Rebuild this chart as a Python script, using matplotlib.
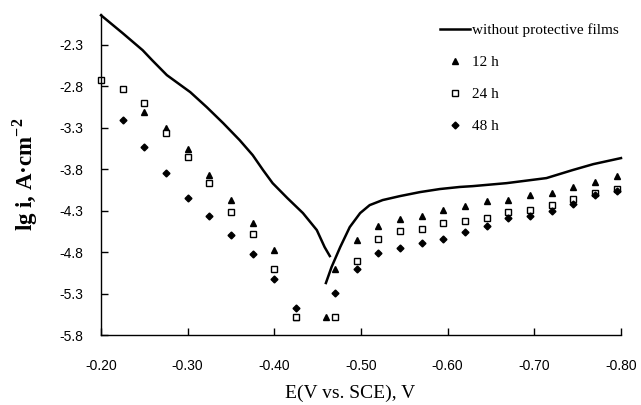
#!/usr/bin/env python3
# -*- coding: utf-8 -*-
"""
Polarization curves: bare sample vs. samples with protective films
grown for 12 h, 24 h and 48 h.
"""
import matplotlib
matplotlib.use('Agg')
import matplotlib.pyplot as plt

plt.rcParams['font.family'] = ['Liberation Serif', 'DejaVu Serif']
plt.rcParams['mathtext.fontset'] = 'custom'
plt.rcParams['mathtext.rm'] = 'Liberation Serif'
plt.rcParams['mathtext.bf'] = 'Liberation Serif:bold'

# bare sample, anodic and cathodic branches (E in V vs. SCE, lg i)
bare_anodic_E = [-0.200, -0.225, -0.248, -0.259, -0.276, -0.303, -0.322, -0.341,
                 -0.360, -0.375, -0.387, -0.398, -0.415, -0.433, -0.449, -0.458, -0.464]
bare_anodic_i = [-1.945, -2.161, -2.366, -2.487, -2.667, -2.872, -3.053, -3.246,
                 -3.451, -3.631, -3.812, -3.969, -4.149, -4.330, -4.535, -4.740, -4.848]
bare_cathodic_E = [-0.4595, -0.466, -0.476, -0.487, -0.499, -0.510, -0.525, -0.545,
                   -0.568, -0.591, -0.614, -0.629, -0.668, -0.714, -0.744, -0.768, -0.800]
bare_cathodic_i = [-5.173, -4.981, -4.740, -4.499, -4.330, -4.234, -4.173, -4.125,
                   -4.077, -4.040, -4.015, -4.005, -3.969, -3.908, -3.812, -3.740, -3.667]

E_12h = [-0.25, -0.275, -0.30, -0.325, -0.35, -0.375, -0.40, -0.425, -0.46, -0.47,
         -0.495, -0.52, -0.545, -0.57, -0.595, -0.62, -0.645, -0.67, -0.695, -0.72,
         -0.745, -0.77, -0.795]
i_12h = [-3.113, -3.306, -3.559, -3.872, -4.173, -4.451, -4.776, -5.583, -5.583, -5.005,
         -4.655, -4.487, -4.402, -4.366, -4.294, -4.246, -4.186, -4.173, -4.113, -4.089,
         -4.017, -3.957, -3.884]

E_24h = [-0.20, -0.225, -0.25, -0.275, -0.30, -0.325, -0.35, -0.375, -0.40, -0.425, -0.47,
         -0.495, -0.52, -0.545, -0.57, -0.595, -0.62, -0.645, -0.67, -0.695, -0.72,
         -0.745, -0.77, -0.795]
i_24h = [-2.728, -2.836, -3.005, -3.366, -3.655, -3.969, -4.318, -4.583, -5.005, -5.583, -5.583,
         -4.908, -4.643, -4.547, -4.523, -4.451, -4.427, -4.390, -4.318, -4.294, -4.234,
         -4.161, -4.089, -4.041]

E_48h = [-0.225, -0.25, -0.275, -0.30, -0.325, -0.35, -0.375, -0.40, -0.425, -0.47,
         -0.495, -0.52, -0.545, -0.57, -0.595, -0.62, -0.645, -0.67, -0.695, -0.72,
         -0.745, -0.77, -0.795]
i_48h = [-3.210, -3.535, -3.848, -4.149, -4.366, -4.595, -4.824, -5.125, -5.475, -5.294,
         -5.005, -4.812, -4.752, -4.692, -4.643, -4.559, -4.487, -4.390, -4.366, -4.306,
         -4.222, -4.113, -4.065]

x_ticks = [-0.20, -0.30, -0.40, -0.50, -0.60, -0.70, -0.80]
y_ticks = [-5.8, -5.3, -4.8, -4.3, -3.8, -3.3, -2.8, -2.3]

fig = plt.figure(figsize=(6.41, 4.05), dpi=100)
ax = fig.add_axes([0.1576, 0.1728, 0.8112, 0.7926])

ax.plot(bare_anodic_E, bare_anodic_i, color='black', lw=1.8,
        label='without protective films', clip_on=False)
ax.plot(bare_cathodic_E, bare_cathodic_i, color='black', lw=1.8, clip_on=False)
ax.plot(E_12h, i_12h, ls='none', marker='^', ms=5, color='black', label='12 h')
ax.plot(E_24h, i_24h, ls='none', marker='s', ms=4.5, mfc='white', mec='black',
        mew=1.0, label='24 h', clip_on=False)
ax.plot(E_48h, i_48h, ls='none', marker='D', ms=3.5, color='black', label='48 h')

ax.set_xlim(-0.20, -0.80)
ax.set_ylim(-5.8, -1.93)
ax.set_xticks(x_ticks)
ax.set_xticklabels([f'{v:.2f}' for v in x_ticks])
ax.set_yticks(y_ticks)
ax.set_yticklabels([f'{v:.1f}' for v in y_ticks])
for lbl in ax.get_xticklabels() + ax.get_yticklabels():
    lbl.set_family('Liberation Sans')

for side in ['top', 'right']:
    ax.spines[side].set_visible(False)
for side in ['left', 'bottom']:
    ax.spines[side].set_linewidth(1.0)

ax.tick_params(axis='both', direction='in', length=5, width=1.0, labelsize=10)
ax.tick_params(axis='y', pad=13)
ax.tick_params(axis='x', pad=17)

ax.set_xlabel('E(V vs. SCE), V', fontsize=14, labelpad=9, x=0.48)
ax.set_ylabel(r'lg i, A·cm$^{\mathbf{-2}}$', fontsize=16.5, fontweight='bold', labelpad=14)

leg = ax.legend(loc='upper left', bbox_to_anchor=(0.652, 0.971), frameon=False,
                fontsize=11, handlelength=1.96, handletextpad=0.15, labelspacing=1.2,
                borderaxespad=0.0, borderpad=0.0)

fig.savefig('out.png', dpi=100)
